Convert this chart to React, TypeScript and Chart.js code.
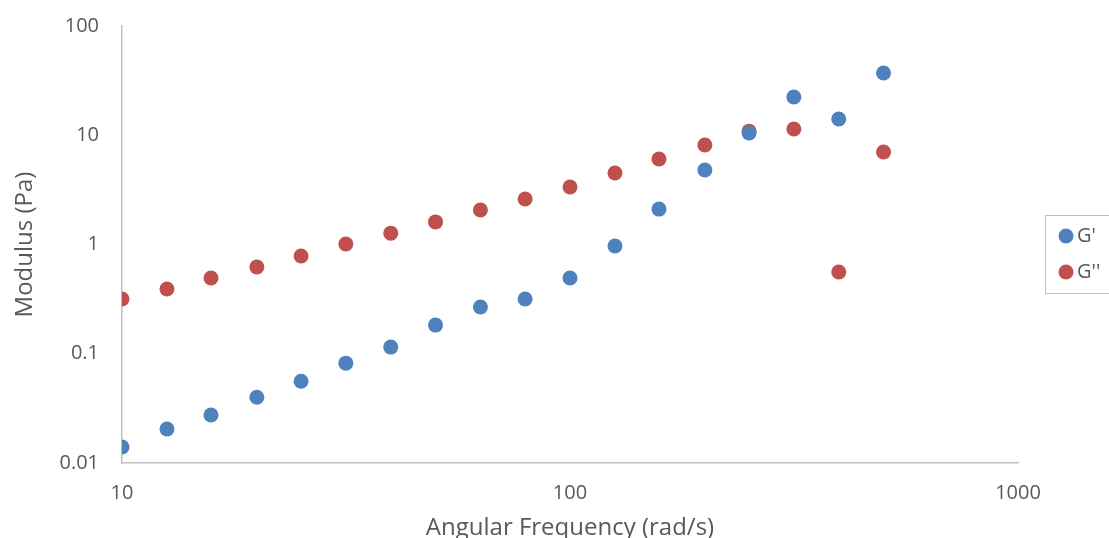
import React, { useEffect, useRef } from "react";
import { Chart, registerables } from "chart.js";

Chart.register(...registerables);

const frequency = [10, 12.6, 15.8, 20, 25.1, 31.6, 39.8, 50.1, 63.1, 79.4, 100, 126, 158, 200, 251, 316, 398, 501];
const gPrime = [0.014, 0.0205, 0.0275, 0.04, 0.056, 0.082, 0.115, 0.183, 0.268, 0.317, 0.493, 0.97, 2.11, 4.81, 10.5, 22.4, 14.1, 37.1];
const gDoublePrime = [0.317, 0.392, 0.493, 0.622, 0.785, 1.01, 1.27, 1.61, 2.07, 2.61, 3.36, 4.51, 6.06, 8.14, 10.9, 11.4, 0.56, 7.03];
const seriesLabels = ["G'", "G''"];
const seriesColors = ["#4F81BD", "#C0504D"];
const xTicks = [10, 100, 1000];
const yTicks = [0.01, 0.1, 1, 10, 100];

const FONT = "'Open Sans', sans-serif";
const TEXT = "#595959";

const legendPlugin = {
  id: "boxLegend",
  afterDraw(chart: any) {
    const ctx = chart.ctx;
    ctx.save();
    ctx.strokeStyle = "#bfbfbf";
    ctx.lineWidth = 1;
    ctx.strokeRect(1045.5, 215.5, 80, 78);
    chart.data.datasets.forEach((ds: any, i: number) => {
      const y = 236 + i * 36;
      ctx.fillStyle = ds.backgroundColor;
      ctx.beginPath();
      ctx.arc(1066, y, 7.5, 0, Math.PI * 2);
      ctx.fill();
      ctx.fillStyle = TEXT;
      ctx.font = `20px ${FONT}`;
      ctx.textBaseline = "middle";
      ctx.textAlign = "left";
      ctx.fillText(ds.label, 1077, y);
    });
    ctx.restore();
  },
};

export default function App() {
  const ref = useRef<HTMLCanvasElement>(null);
  useEffect(() => {
    document.body.style.margin = "0";
    const chart = new Chart(ref.current!, {
      type: "scatter",
      data: {
        datasets: [gPrime, gDoublePrime].map((vals, i) => ({
          label: seriesLabels[i],
          data: frequency.map((x, j) => ({ x, y: vals[j] })),
          backgroundColor: seriesColors[i],
          borderColor: seriesColors[i],
          pointRadius: 7.5,
          pointBorderWidth: 0,
        })),
      },
      options: {
        animation: false,
        responsive: false,
        maintainAspectRatio: false,
        layout: { padding: { left: 0, right: 91, top: 26, bottom: 0 } },
        plugins: { legend: { display: false }, tooltip: { enabled: false } },
        scales: {
          x: {
            type: "logarithmic",
            min: 10,
            max: 1000,
            afterBuildTicks: (s: any) => {
              s.ticks = xTicks.map((v) => ({ value: v }));
            },
            afterFit: (s: any) => {
              s.height = 75;
              s.paddingLeft = 0;
              s.paddingRight = 0;
            },
            grid: { display: false, drawTicks: false },
            border: { display: true, color: "#bfbfbf", width: 1.5 },
            ticks: {
              color: TEXT,
              font: { family: FONT, size: 20 },
              padding: 18,
              maxRotation: 0,
              autoSkip: false,
              callback: (v: any) => String(v),
            },
            title: {
              display: true,
              text: "Angular Frequency (rad/s)",
              color: TEXT,
              font: { family: FONT, size: 24 },
              padding: { top: 0, bottom: -5 },
            },
          },
          y: {
            type: "logarithmic",
            min: 0.01,
            max: 100,
            afterBuildTicks: (s: any) => {
              s.ticks = yTicks.map((v) => ({ value: v }));
            },
            afterFit: (s: any) => {
              s.width = 122;
              s.paddingTop = 0;
              s.paddingBottom = 0;
            },
            grid: { display: false, drawTicks: false },
            border: { display: true, color: "#bfbfbf", width: 1.5 },
            ticks: {
              color: TEXT,
              font: { family: FONT, size: 20 },
              padding: 23,
              autoSkip: false,
              callback: (v: any) => String(v),
            },
            title: {
              display: true,
              text: "Modulus (Pa)",
              color: TEXT,
              font: { family: FONT, size: 24 },
              padding: { top: 11, bottom: 0 },
            },
          },
        },
      },
      plugins: [legendPlugin],
    });
    return () => chart.destroy();
  }, []);
  return (
    <div style={{ width: 1109, height: 538 }}>
      <canvas ref={ref} width={1109} height={538} style={{ display: "block" }} />
    </div>
  );
}
